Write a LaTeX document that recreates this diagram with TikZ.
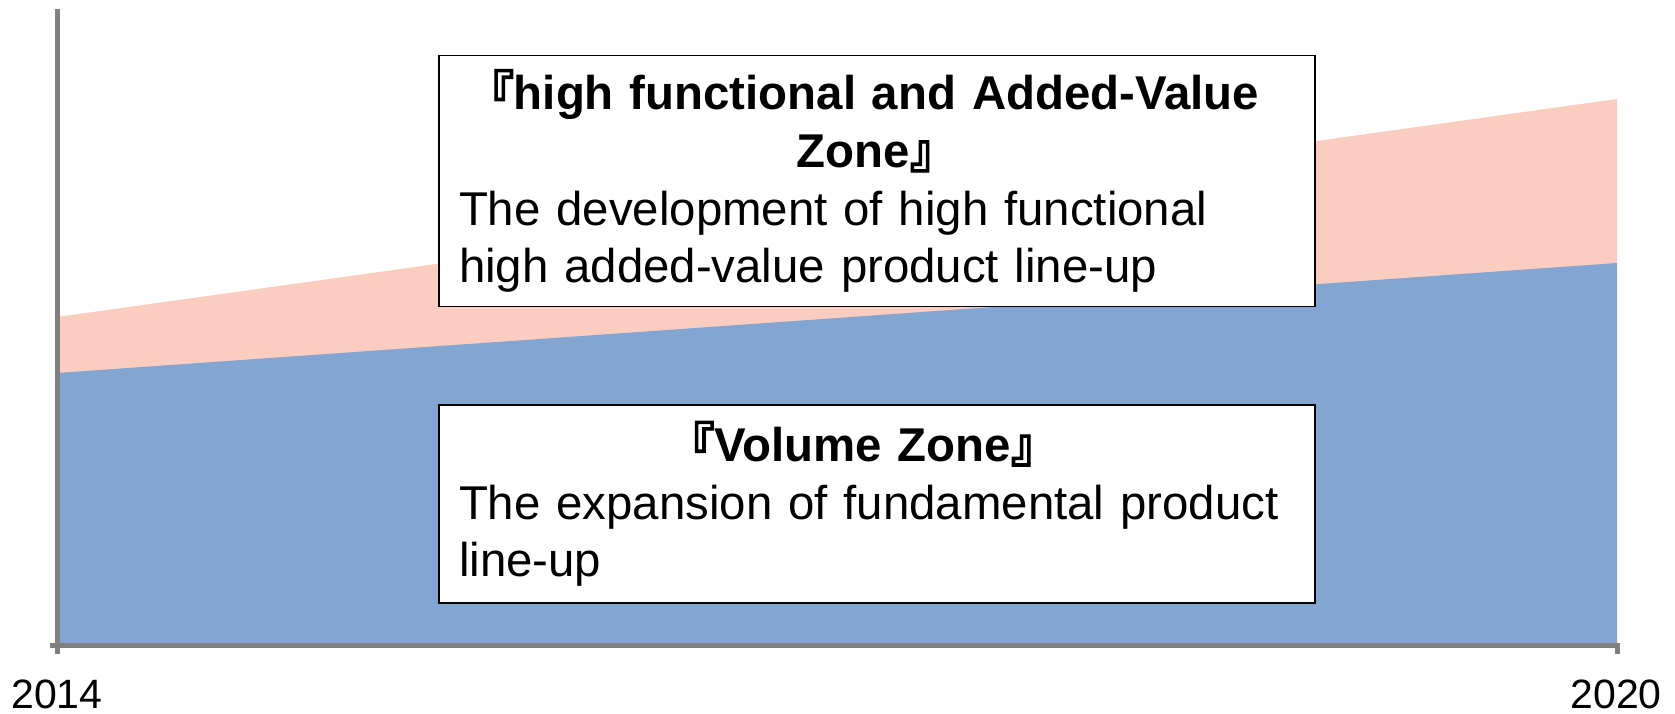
\documentclass[tikz,border=0pt]{standalone}
\usepackage{fontspec}
\usepackage{xcolor}
\setmainfont{Liberation Sans}
\newfontfamily\cjkfont{Noto Sans CJK JP}[FakeBold=2.5]
\usetikzlibrary{positioning}
\definecolor{ZonePink}{HTML}{FBCDC1}
\definecolor{ZoneBlue}{HTML}{83A5D1}
\definecolor{AxisGray}{HTML}{808080}
\newcommand{\zopen}{\hspace{-0.6em}{\cjkfont 『}}
\newcommand{\zclose}{{\cjkfont 』}\hspace{-0.6em}}

\begin{document}
\begin{tikzpicture}[
      x=1pt,y=-1pt,
      zonebox/.style={
        draw=black,
        fill=white,
        line width=1.4pt,
        text width=836pt,
        inner xsep=20pt,
        inner ysep=0pt,
        minimum width=876pt,
        align=left,
        font=\fontsize{47.4}{57.6}\selectfont
      },
      axisline/.style={draw=AxisGray,line width=5pt},
      yearlabel/.style={inner sep=0pt,font=\fontsize{41}{49}\selectfont}
    ]
      \useasboundingbox (0,0) rectangle (1675,713);
      \fill[ZonePink] (57,317) -- (1617,99) -- (1617,645) -- (57,645) -- cycle;
      \fill[ZoneBlue] (57,373) -- (1617,263) -- (1617,645) -- (57,645) -- cycle;
      \draw[axisline] (57,8.5) -- (57,654);
      \draw[axisline] (50,645) -- (1617,645) -- (1617,654);
      \node[zonebox,minimum height=251pt] (hi) at (877,181)
        {{\centering\bfseries\zopen high functional and Added-Value\\Zone\zclose\par}
         The development of high functional\\high added-value product line-up};
      \node[zonebox,minimum height=198pt,below=97pt of hi] (vol)
        {{\centering\bfseries\zopen Volume Zone\zclose\par}
         The expansion of fundamental product\\line-up};
      \node[yearlabel] (start) at (57,694) {2014};
      \node[yearlabel] (end) at (1616,694) {2020};
    \end{tikzpicture}
\end{document}
